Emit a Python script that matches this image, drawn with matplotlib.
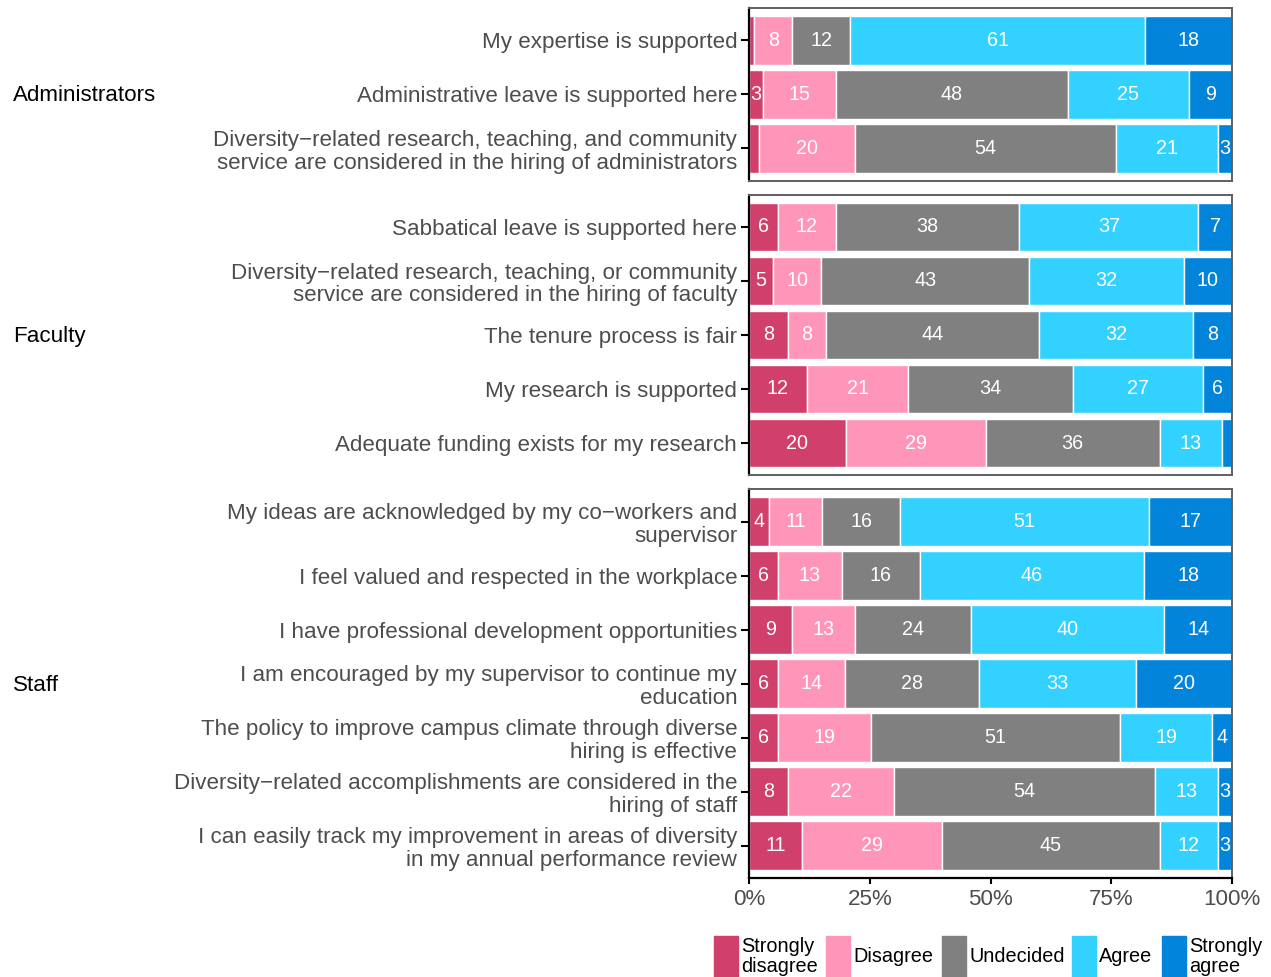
import matplotlib.pyplot as plt
import numpy as np

plt.rcParams['font.family'] = ['Liberation Sans', 'DejaVu Sans']

levels = ['Strongly\ndisagree', 'Disagree', 'Undecided', 'Agree', 'Strongly\nagree']
colors = ['#D13F6B', '#FF96B9', '#808080', '#33D1FF', '#0284DA']

groups = ['Administrators', 'Faculty', 'Staff']

admin_items = [
    'My expertise is supported',
    'Administrative leave is supported here',
    'Diversity\u2212related research, teaching, and community\nservice are considered in the hiring of administrators',
]
admin_vals = [
    [1, 8, 12, 61, 18],
    [3, 15, 48, 25, 9],
    [2, 20, 54, 21, 3],
]

faculty_items = [
    'Sabbatical leave is supported here',
    'Diversity\u2212related research, teaching, or community\nservice are considered in the hiring of faculty',
    'The tenure process is fair',
    'My research is supported',
    'Adequate funding exists for my research',
]
faculty_vals = [
    [6, 12, 38, 37, 7],
    [5, 10, 43, 32, 10],
    [8, 8, 44, 32, 8],
    [12, 21, 34, 27, 6],
    [20, 29, 36, 13, 2],
]

staff_items = [
    'My ideas are acknowledged by my co\u2212workers and\nsupervisor',
    'I feel valued and respected in the workplace',
    'I have professional development opportunities',
    'I am encouraged by my supervisor to continue my\neducation',
    'The policy to improve campus climate through diverse\nhiring is effective',
    'Diversity\u2212related accomplishments are considered in the\nhiring of staff',
    'I can easily track my improvement in areas of diversity\nin my annual performance review',
]
staff_vals = [
    [4, 11, 16, 51, 17],
    [6, 13, 16, 46, 18],
    [9, 13, 24, 40, 14],
    [6, 14, 28, 33, 20],
    [6, 19, 51, 19, 4],
    [8, 22, 54, 13, 3],
    [11, 29, 45, 12, 3],
]

panels = [(admin_items, admin_vals), (faculty_items, faculty_vals), (staff_items, staff_vals)]

W, H = 1271, 977
fig = plt.figure(figsize=(W / 100, H / 100), dpi=100)

x0, x1 = 749, 1232
row_px = 54.0
top = 8.0
gap = 13.8
text_grey = '#4D4D4D'
fs = 16.1

for gi, (items, vals) in enumerate(panels):
    n = len(items)
    h = (n + 0.2) * row_px
    ax = fig.add_axes([x0 / W, 1 - (top + h) / H, (x1 - x0) / W, h / H])
    vals = np.array(vals, dtype=float)
    shares = vals / vals.sum(axis=1, keepdims=True) * 100
    ypos = np.arange(n)
    left = np.zeros(n)
    for k in range(len(levels)):
        ax.barh(ypos, shares[:, k], left=left, height=0.9, color=colors[k],
                edgecolor='white', linewidth=1.0)
        for i in range(n):
            if vals[i, k] >= 3:
                ax.text(left[i] + shares[i, k] / 2, ypos[i], f'{int(vals[i, k])}',
                        ha='center', va='center', color='white', fontsize=14.2)
        left += shares[:, k]
    ax.set_xlim(0, 100)
    ax.set_ylim(n - 0.4, -0.6)
    ax.set_yticks(ypos)
    ax.set_yticklabels(items, fontsize=fs, color=text_grey, linespacing=1.12)
    ax.tick_params(axis='y', length=5.5, width=1.5, pad=3, color='black')
    for s in ['top', 'right', 'bottom']:
        ax.spines[s].set_color('#5F5F5F')
        ax.spines[s].set_linewidth(1.4)
    ax.spines['left'].set_color('black')
    ax.spines['left'].set_linewidth(1.6)
    if gi == len(panels) - 1:
        ax.spines['bottom'].set_color('black')
        ax.spines['bottom'].set_linewidth(1.6)
        ax.set_xticks([0, 25, 50, 75, 100])
        ax.set_xticklabels(['0%', '25%', '50%', '75%', '100%'], fontsize=fs, color=text_grey)
        ax.tick_params(axis='x', length=4.5, width=1.5, pad=3.5, color='black')
    else:
        ax.set_xticks([])
    fig.text(13 / W, 1 - (top + h / 2 + 1.5) / H, groups[gi], ha='left', va='center',
             fontsize=fs, color='black')
    top += h + gap

# legend drawn along the bottom edge
key_x = [714, 826, 942, 1072, 1162]
for k, lab in enumerate(levels):
    fig.patches.append(plt.Rectangle((key_x[k] / W, 0), 24 / W, 41 / H,
                                     transform=fig.transFigure, color=colors[k],
                                     edgecolor='white', linewidth=1.0))
    fig.text((key_x[k] + 27) / W, 1 - 956.5 / H, lab, ha='left', va='center',
             fontsize=14.3, color='black', linespacing=1.05)

fig.savefig('out.png', dpi=100)
